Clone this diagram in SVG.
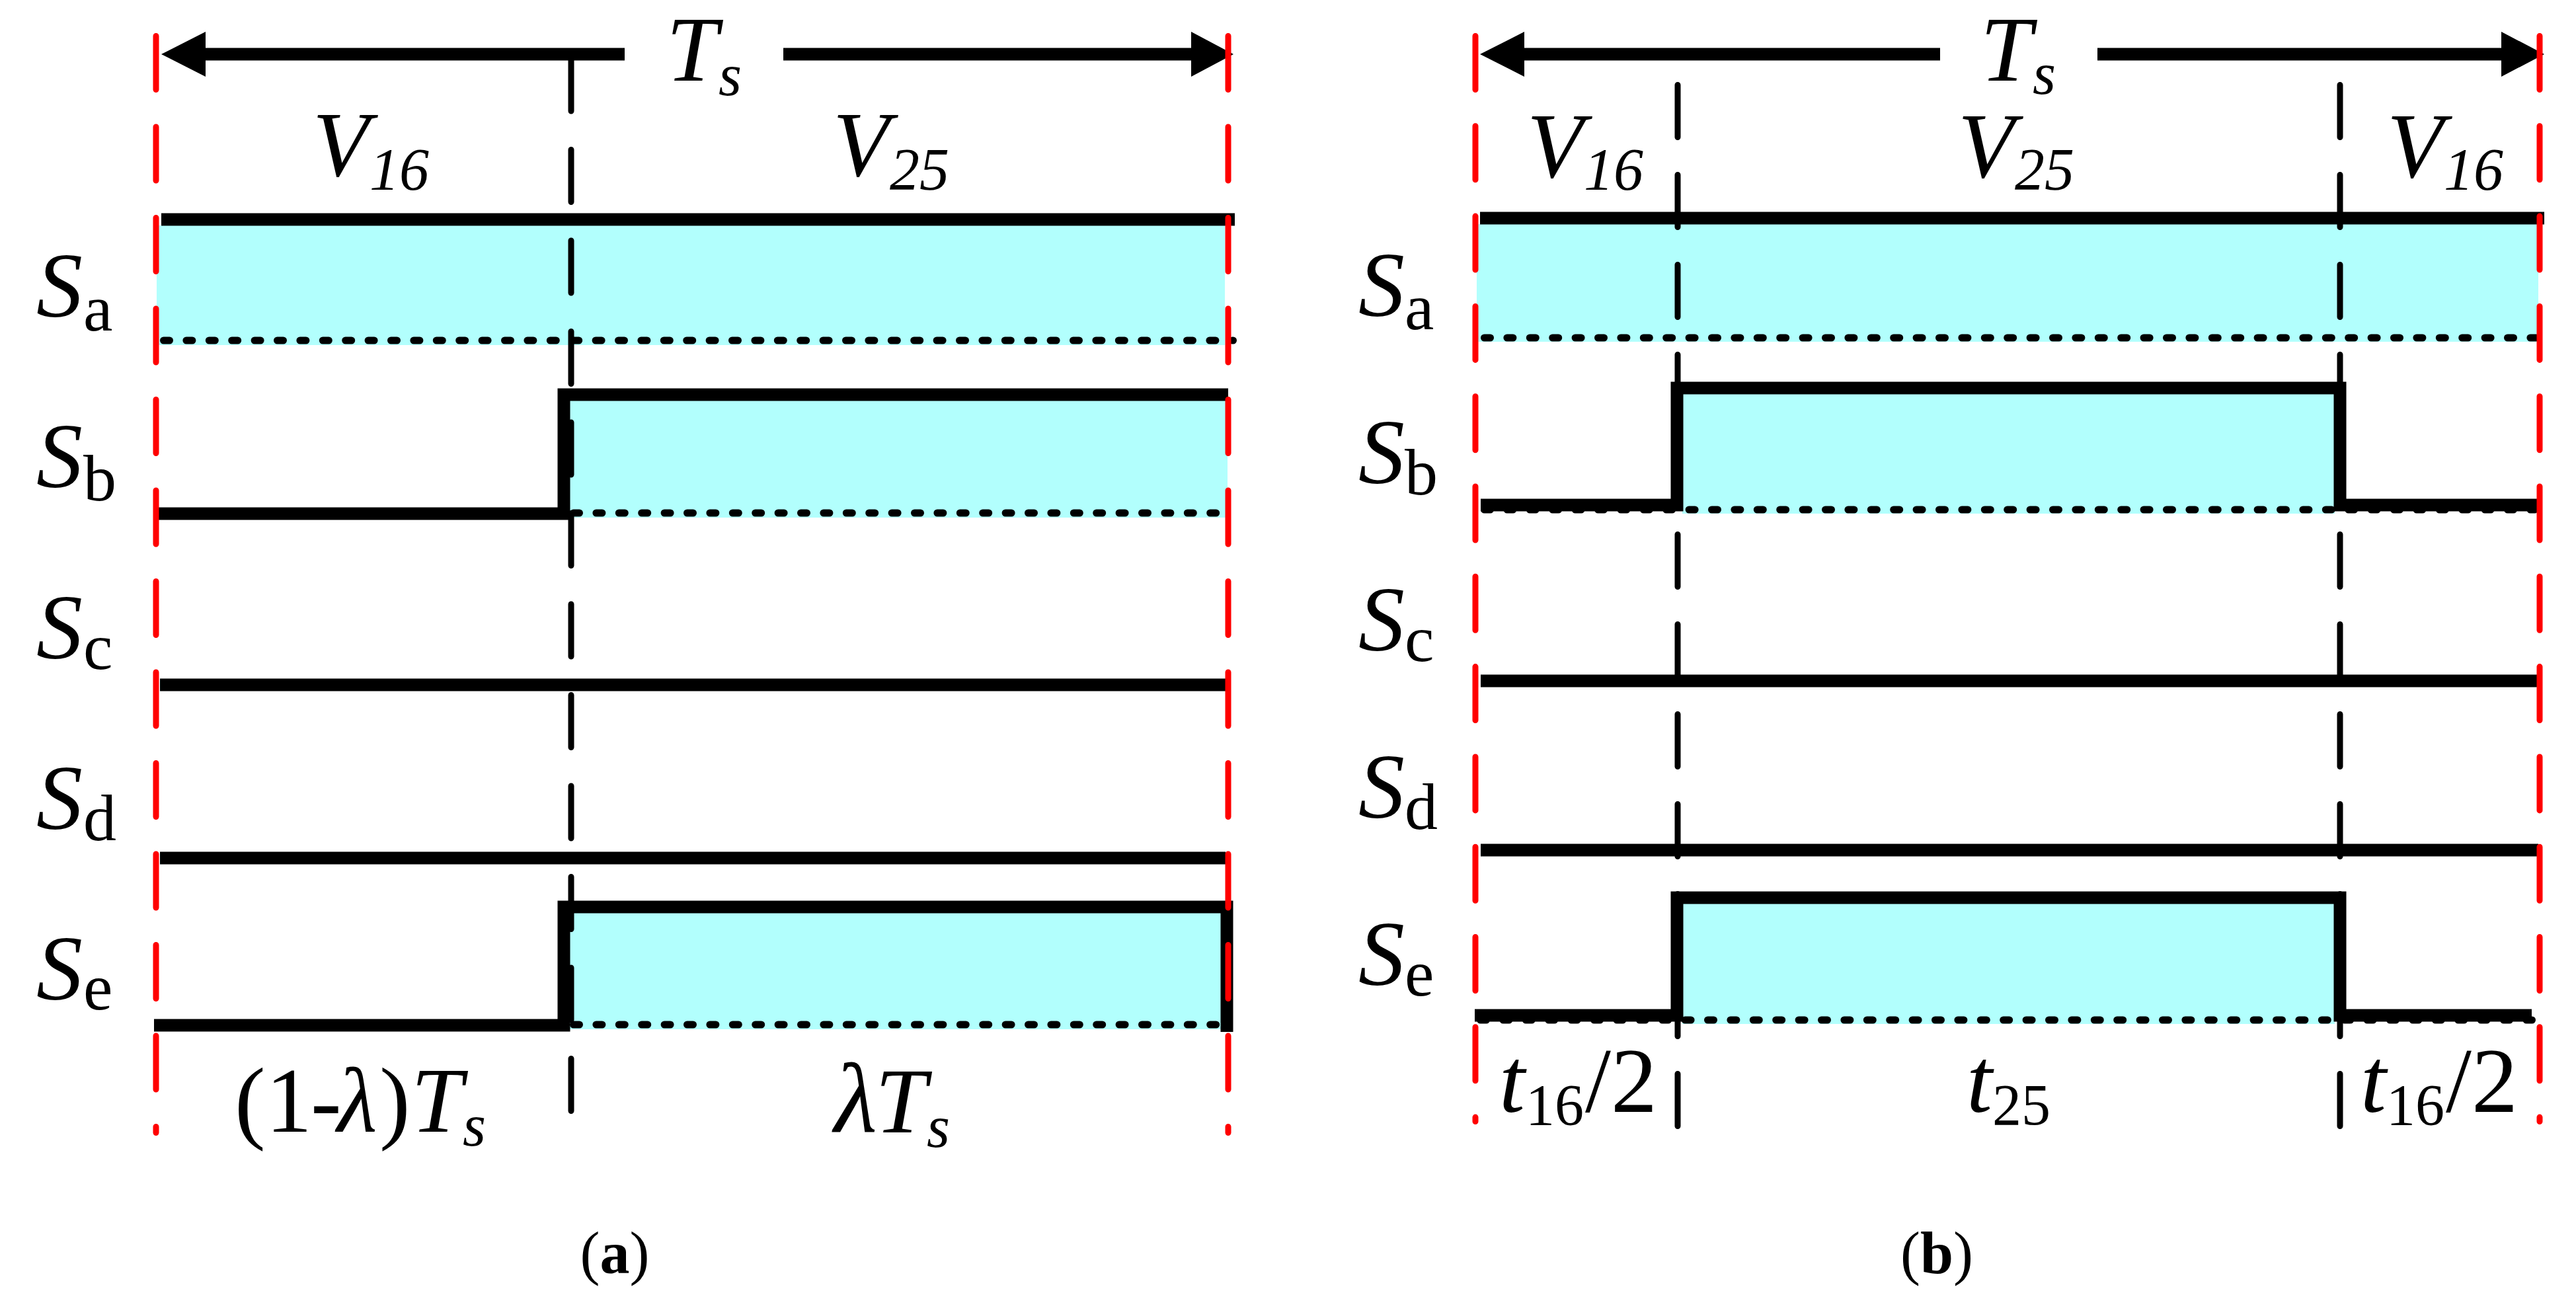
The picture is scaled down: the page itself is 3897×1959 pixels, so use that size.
<svg xmlns="http://www.w3.org/2000/svg" width="3897" height="1959" viewBox="0 0 3897 1959">
<style>
.t{font-family:"Liberation Serif","Times New Roman",serif;fill:#000;font-size:140px}
.i{font-style:italic}
.sub{font-size:90px}
.lsub{font-size:100px;font-style:normal}
.nsub{font-size:88px;font-style:normal}
.cap{font-size:90px}
.fill{fill:#B2FFFD;stroke:none}
.sig{fill:none;stroke:#000;stroke-width:19;stroke-linejoin:miter;stroke-linecap:butt}
.dot{stroke:#000;stroke-width:11;stroke-linecap:round;stroke-dasharray:9 25.4;fill:none}
.bd{stroke:#000;stroke-width:9;stroke-linecap:round;fill:none}
.rd{stroke:#FF0000;stroke-width:9;stroke-linecap:round;fill:none}
.arr{fill:#000;stroke:none}
</style>
<rect width="3897" height="1959" fill="#fff"/>

<!-- Panel (a) -->
<g id="panel-a-fills">
<rect class="fill" x="237" y="341" width="1616" height="181"/>
<rect class="fill" x="861" y="606" width="996" height="177"/>
<rect class="fill" x="861" y="1381" width="987" height="176"/>
</g>
<g id="connectors-a">
<line class="dot" x1="247.5" y1="515" x2="1865.5" y2="515"/>
<line class="dot" x1="867.5" y1="776" x2="1862.5" y2="776"/>
<line class="dot" x1="867.5" y1="1550" x2="1854.5" y2="1550"/>
<polyline class="sig" points="244,332 1868,332"/>
<polyline class="sig" points="240,777 853,777 853,597 1858,597"/>
<polyline class="sig" points="242,1036 1854,1036"/>
<polyline class="sig" points="242,1298 1854,1298"/>
<polyline class="sig" points="233,1551 853,1551 853,1372 1856,1372 1856,1561"/>
<line class="bd" x1="864" y1="89" x2="864" y2="1680.5" stroke-dasharray="79 58.5"/>
<rect class="arr" x="306" y="72.5" width="639" height="19"/>
<polygon class="arr" points="244,82 311,48 311,116"/>
<rect class="arr" x="1185" y="72.5" width="622" height="19"/>
<polygon class="arr" points="1866,82 1802,48 1802,116"/>
<line class="rd" x1="236" y1="54.5" x2="236" y2="1713.5" stroke-dasharray="81 56.5"/>
<line class="rd" x1="1858" y1="54.5" x2="1858" y2="1713.5" stroke-dasharray="81 56.5"/>
</g>
<g id="labels-a">
<text class="t i"><tspan x="1008" y="122">T</tspan><tspan class="sub" x="1087" y="144">s</tspan></text>
<text class="t i"><tspan x="473" y="266">V</tspan><tspan class="sub" x="559" y="287">16</tspan></text>
<text class="t i"><tspan x="1260" y="266">V</tspan><tspan class="sub" x="1346" y="287">25</tspan></text>
<text class="t i"><tspan x="55" y="479">S</tspan><tspan class="lsub" x="126" y="500">a</tspan></text>
<text class="t i"><tspan x="55" y="737">S</tspan><tspan class="lsub" x="126" y="757">b</tspan></text>
<text class="t i"><tspan x="55" y="996">S</tspan><tspan class="lsub" x="126" y="1012">c</tspan></text>
<text class="t i"><tspan x="55" y="1254">S</tspan><tspan class="lsub" x="126" y="1271">d</tspan></text>
<text class="t i"><tspan x="55" y="1512">S</tspan><tspan class="lsub" x="126" y="1527">e</tspan></text>
<text class="t"><tspan x="355" y="1712">(</tspan><tspan x="402" y="1712">1</tspan><tspan x="470" y="1712">-</tspan><tspan class="i" x="510" y="1712">λ</tspan><tspan x="574" y="1712">)</tspan><tspan class="i" x="622" y="1712">T</tspan><tspan class="i sub" x="700" y="1733">s</tspan></text>
<text class="t i"><tspan x="1262" y="1713" font-size="150">λ</tspan><tspan x="1324" y="1713">T</tspan><tspan class="sub" x="1402" y="1735">s</tspan></text>
<text class="t cap" x="930" y="1926" text-anchor="middle">(<tspan font-weight="bold">a</tspan>)</text>
</g>

<!-- Panel (b) -->
<g id="panel-b-fills">
<rect class="fill" x="2234" y="339" width="1606" height="178"/>
<rect class="fill" x="2545" y="595" width="987" height="182"/>
<rect class="fill" x="2545" y="1367" width="987" height="182"/>
</g>
<g id="connectors-b">
<line class="dot" x1="2245.5" y1="511" x2="3843.5" y2="511"/>
<line class="dot" x1="2245.5" y1="771" x2="3834.5" y2="771"/>
<line class="dot" x1="2239.5" y1="1543" x2="3830.5" y2="1543"/>
<polyline class="sig" points="2239,330 3849,330"/>
<polyline class="sig" points="2240,764 2537,764 2537,587 3540,587 3540,764 3840,764"/>
<polyline class="sig" points="2240,1030 3840,1030"/>
<polyline class="sig" points="2240,1286 3840,1286"/>
<polyline class="sig" points="2231,1536 2537,1536 2537,1358 3540,1358 3540,1536 3830,1536"/>
<line class="bd" x1="2538" y1="128.5" x2="2538" y2="1703.5" stroke-dasharray="79 57"/>
<line class="bd" x1="3540" y1="128.5" x2="3540" y2="1703.5" stroke-dasharray="79 57"/>
<rect class="arr" x="2302" y="72.5" width="633" height="19"/>
<polygon class="arr" points="2239,82 2306,48 2306,116"/>
<rect class="arr" x="3173" y="72.5" width="616" height="19"/>
<polygon class="arr" points="3849,82 3784,48 3784,116"/>
<line class="rd" x1="2232" y1="54.5" x2="2232" y2="1696.5" stroke-dasharray="81 55.3"/>
<line class="rd" x1="3842" y1="54.5" x2="3842" y2="1696.5" stroke-dasharray="81 55.3"/>
</g>
<g id="labels-b">
<text class="t i"><tspan x="2996" y="122">T</tspan><tspan class="sub" x="3075" y="142">s</tspan></text>
<text class="t i"><tspan x="2310" y="268">V</tspan><tspan class="sub" x="2396" y="287">16</tspan></text>
<text class="t i"><tspan x="2962" y="268">V</tspan><tspan class="sub" x="3048" y="287">25</tspan></text>
<text class="t i"><tspan x="3611" y="268">V</tspan><tspan class="sub" x="3697" y="287">16</tspan></text>
<text class="t i"><tspan x="2055" y="478">S</tspan><tspan class="lsub" x="2125" y="498">a</tspan></text>
<text class="t i"><tspan x="2055" y="731">S</tspan><tspan class="lsub" x="2125" y="748">b</tspan></text>
<text class="t i"><tspan x="2055" y="984">S</tspan><tspan class="lsub" x="2125" y="1000">c</tspan></text>
<text class="t i"><tspan x="2055" y="1237">S</tspan><tspan class="lsub" x="2125" y="1254">d</tspan></text>
<text class="t i"><tspan x="2055" y="1490">S</tspan><tspan class="lsub" x="2125" y="1506">e</tspan></text>
<text class="t"><tspan class="i" x="2268" y="1682">t</tspan><tspan class="nsub" x="2308" y="1701">16</tspan><tspan x="2398" y="1682">/2</tspan></text>
<text class="t"><tspan class="i" x="2975" y="1682">t</tspan><tspan class="nsub" x="3014" y="1701">25</tspan></text>
<text class="t"><tspan class="i" x="3571" y="1682">t</tspan><tspan class="nsub" x="3610" y="1701">16</tspan><tspan x="3700" y="1682">/2</tspan></text>
<text class="t cap" x="2930" y="1926" text-anchor="middle">(<tspan font-weight="bold">b</tspan>)</text>
</g>
</svg>
